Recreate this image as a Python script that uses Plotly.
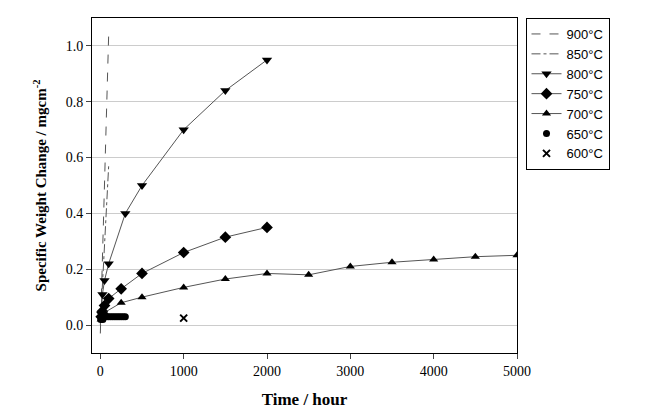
import plotly.graph_objects as go

t900 = [0, 25, 50, 75, 100]
w900 = [-0.03, 0.25, 0.55, 0.80, 1.04]
t850 = [0, 25, 50, 75, 100]
w850 = [0.0, 0.15, 0.30, 0.45, 0.57]
t800 = [10, 25, 50, 100, 300, 500, 1000, 1500, 2000]
w800 = [0.04, 0.11, 0.16, 0.22, 0.40, 0.50, 0.70, 0.84, 0.95]
t750 = [10, 25, 50, 100, 250, 500, 1000, 1500, 2000]
w750 = [0.03, 0.05, 0.07, 0.095, 0.13, 0.185, 0.26, 0.315, 0.35]
t700 = [10, 50, 250, 500, 1000, 1500, 2000, 2500, 3000, 3500, 4000, 4500, 5000]
w700 = [0.02, 0.045, 0.08, 0.10, 0.135, 0.165, 0.185, 0.18, 0.21, 0.225, 0.235, 0.245, 0.25]
t650 = [5, 10, 20, 30, 50, 75, 100, 125, 150, 175, 200, 225, 250, 275, 300]
w650 = [0.02, 0.025, 0.03, 0.02, 0.035, 0.03, 0.03, 0.03, 0.03, 0.03, 0.03, 0.03, 0.03, 0.03, 0.03]
t600 = [1000]
w600 = [0.025]

fig = go.Figure()
grey = "#555555"
fig.add_trace(go.Scatter(x=t900, y=w900, mode="lines", name="900°C",
                         line=dict(color=grey, width=1, dash="dash")))
fig.add_trace(go.Scatter(x=t850, y=w850, mode="lines", name="850°C",
                         line=dict(color=grey, width=1, dash="dashdot")))
fig.add_trace(go.Scatter(x=t800, y=w800, mode="lines+markers", name="800°C",
                         line=dict(color=grey, width=1),
                         marker=dict(symbol="triangle-down", size=9, color="black")))
fig.add_trace(go.Scatter(x=t750, y=w750, mode="lines+markers", name="750°C",
                         line=dict(color=grey, width=1),
                         marker=dict(symbol="diamond", size=9, color="black")))
fig.add_trace(go.Scatter(x=t700, y=w700, mode="lines+markers", name="700°C",
                         line=dict(color=grey, width=1),
                         marker=dict(symbol="triangle-up", size=8, color="black")))
fig.add_trace(go.Scatter(x=t650, y=w650, mode="markers", name="650°C",
                         marker=dict(symbol="circle", size=7, color="black")))
fig.add_trace(go.Scatter(x=t600, y=w600, mode="markers", name="600°C",
                         marker=dict(symbol="x-thin", size=7, color="black",
                                     line=dict(width=2, color="black"))))

fig.update_layout(
    width=655, height=413, plot_bgcolor="white", paper_bgcolor="white",
    margin=dict(l=84, r=146, t=10, b=68),
    font=dict(family="Liberation Serif", size=14, color="black"),
    legend=dict(x=1.02, y=1.0, xanchor="left", yanchor="top",
                bordercolor="black", borderwidth=1, tracegroupgap=0,
                font=dict(family="Liberation Sans", size=13)),
)
fig.update_xaxes(range=[-100, 5000], tickvals=[0, 1000, 2000, 3000, 4000, 5000],
                 showgrid=False, showline=True, linecolor="black", mirror=True,
                 ticks="outside", zeroline=False,
                 title=dict(text="<b>Time / hour</b>", font=dict(size=17)))
fig.update_yaxes(range=[-0.1, 1.1], tickvals=[0, 0.2, 0.4, 0.6, 0.8, 1.0],
                 tickformat=".1f", showgrid=True, gridcolor="#cccccc",
                 showline=True, linecolor="black", mirror=True,
                 ticks="outside", zeroline=False,
                 title=dict(text="<b>Specific Weight Change / mgcm<sup>-2</sup></b>",
                            font=dict(size=15)))
fig.write_html("out.html")
